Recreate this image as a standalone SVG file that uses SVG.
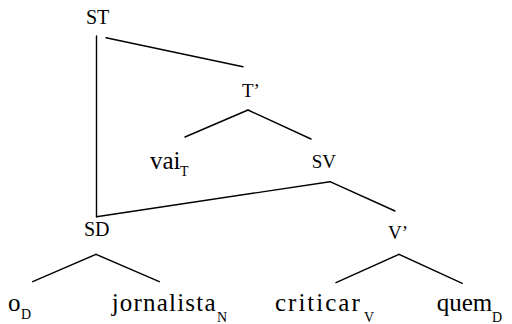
<svg xmlns="http://www.w3.org/2000/svg" width="512" height="324" viewBox="0 0 512 324">
<rect width="512" height="324" fill="#fff"/>
<g id="connectors" stroke="#000" stroke-width="1.4" stroke-linecap="round">
<line x1="96.5" y1="36" x2="96.5" y2="216.7"/>
<line x1="106" y1="37.7" x2="243" y2="66.7"/>
<line x1="248" y1="110" x2="185" y2="137"/>
<line x1="248" y1="110" x2="311" y2="139"/>
<line x1="330" y1="181.7" x2="96.5" y2="216.7"/>
<line x1="330" y1="181.7" x2="395" y2="211"/>
<line x1="96" y1="254.3" x2="32.7" y2="281.7"/>
<line x1="96" y1="254.3" x2="159.3" y2="281.7"/>
<line x1="399" y1="254.3" x2="336" y2="282.7"/>
<line x1="399" y1="254.3" x2="462.3" y2="283.3"/>
</g>
<g font-family="Liberation Serif" fill="#000">
<g id="ST" font-size="20"><text x="86" y="24">ST</text></g>
<g id="Tbar" font-size="19"><text x="242" y="96.7">T&#8217;</text></g>
<g id="vai"><text x="150" y="169" font-size="25">vai</text><text x="180" y="176" font-size="14">T</text></g>
<g id="SV" font-size="19"><text x="311.7" y="168.3">SV</text></g>
<g id="SD" font-size="20"><text x="84" y="236">SD</text></g>
<g id="Vbar" font-size="19"><text x="388" y="239.3">V&#8217;</text></g>
<g id="o"><text x="8" y="311" font-size="25">o</text><text x="21" y="318.5" font-size="14">D</text></g>
<g id="jornalista"><text x="111.7" y="311" font-size="25" letter-spacing="1.2">jornalista</text><text x="217" y="321.5" font-size="14">N</text></g>
<g id="criticar"><text x="275" y="311" font-size="25" letter-spacing="2">criticar</text><text x="364" y="322" font-size="14">V</text></g>
<g id="quem"><text x="436.7" y="311" font-size="25">quem</text><text x="492" y="321.5" font-size="14">D</text></g>
</g>
</svg>
